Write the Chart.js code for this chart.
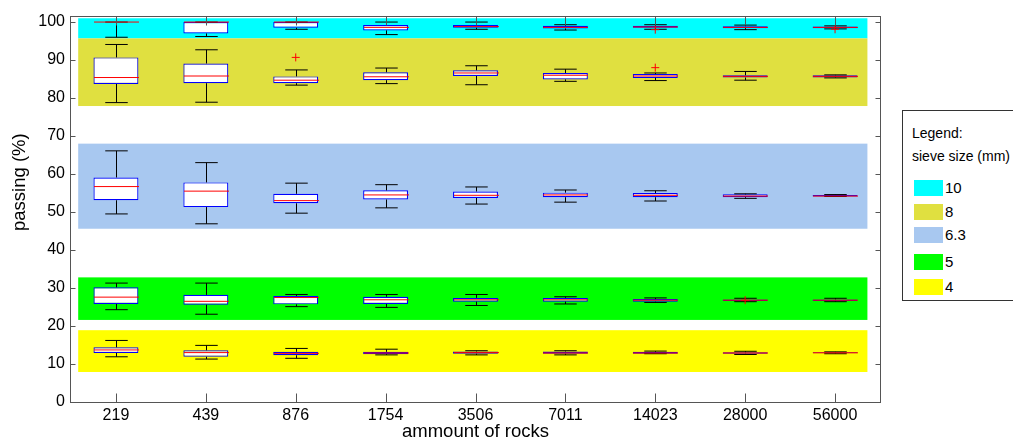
<!DOCTYPE html>
<html>
<head>
<meta charset="utf-8">
<title>passing vs ammount of rocks</title>
<script src="https://cdn.jsdelivr.net/npm/chart.js@4.4.1/dist/chart.umd.min.js"></script>
<style>
  body { margin: 0; background: #fff; }
  #wrap { position: relative; width: 1013px; height: 445px; overflow: hidden; font-family: "Liberation Sans", Arial, sans-serif; }
  #legendBox { position: absolute; left: 902px; top: 110px; width: 140px; height: 189px; border: 1px solid #333; background: #fff; }
  #legendBox .txt { position: absolute; left: 9px; font-size: 14px; line-height: 16px; white-space: nowrap; color: #000; }
  #legendBox .sw { position: absolute; left: 11px; width: 29px; height: 16px; }
  #legendBox .lbl { position: absolute; left: 42px; font-size: 15px; line-height: 16px; color: #000; }
</style>
</head>
<body>
<div id="wrap">
  <canvas id="boxChart" width="1013" height="445"></canvas>
  <div id="legendBox"></div>
</div>
<script>
// categories on the x axis
var categories = ['219', '439', '876', '1754', '3506', '7011', '14023', '28000', '56000'];
// sieve sizes (mm), one box series each
var sieveSizes = ['10', '8', '6.3', '5', '4'];
var bandColors = ['#00ffff', '#e0e040', '#a8c8f0', '#00ff00', '#ffff00'];

// [lower whisker, q1, median, q3, upper whisker] per category
var box10 = [[96.0, 100, 100, 100, 100], [96.2, 97.0, 100, 100, 100], [98.1, 98.5, 100, 100, 100],
             [96.7, 97.8, 98.6, 99.2, 100], [98.1, 98.5, 98.8, 99.2, 100], [97.9, 98.3, 98.6, 99.0, 99.3],
             [98.1, 98.5, 98.7, 99.0, 99.3], [98.0, 98.4, 98.6, 98.9, 99.2], [98.2, 98.4, 98.6, 98.8, 99.0]];
var box8 = [[78.8, 83.7, 85.4, 90.7, 94.1], [78.9, 83.9, 85.8, 89.1, 92.7], [83.4, 83.9, 84.7, 85.7, 87.4],
            [83.8, 84.7, 85.6, 86.8, 87.9], [83.5, 85.8, 86.6, 87.3, 88.5], [84.4, 84.9, 86.0, 86.6, 87.6],
            [84.6, 85.3, 85.8, 86.3, 86.6], [84.7, 85.4, 85.7, 86.0, 87.0], [85.3, 85.4, 85.7, 86.0, 86.1]];
var box63 = [[49.5, 53.1, 56.7, 59.1, 66.1], [46.9, 51.3, 55.5, 57.8, 63.0], [49.7, 52.3, 53.0, 54.8, 57.6],
             [51.1, 53.3, 54.5, 55.7, 57.2], [52.1, 53.7, 54.4, 55.4, 56.6], [52.6, 53.9, 54.5, 55.1, 55.8],
             [52.9, 53.9, 54.4, 55.0, 55.6], [53.6, 53.9, 54.2, 54.65, 54.8], [54.1, 54.1, 54.2, 54.5, 54.6]];
var box5 = [[24.3, 25.8, 27.6, 30.2, 31.3], [23.1, 25.6, 26.5, 28.2, 31.3], [25.1, 25.7, 27.5, 27.9, 28.3],
            [24.9, 25.8, 26.9, 27.7, 28.3], [25.4, 26.4, 26.9, 27.4, 28.3], [25.8, 26.4, 26.9, 27.4, 27.7],
            [26.2, 26.4, 26.8, 27.1, 27.4], [26.4, 26.6, 26.8, 27.0, 27.3], [26.4, 26.6, 26.8, 27.0, 27.3]];
var box4 = [[11.9, 12.9, 13.7, 14.4, 16.2], [11.3, 11.9, 13.0, 13.6, 14.9], [11.5, 12.3, 12.8, 13.2, 14.1],
            [12.4, 12.6, 12.9, 13.2, 13.9], [12.4, 12.7, 13.0, 13.3, 13.5], [12.4, 12.7, 12.9, 13.3, 13.5],
            [12.7, 12.7, 12.9, 13.2, 13.4], [12.5, 12.7, 12.9, 13.1, 13.35], [12.7, 12.8, 12.95, 13.1, 13.2]];
var boxes = [box10, box8, box63, box5, box4];

// outliers as [category index, value]
var outliers10 = [[6, 98.0], [8, 98.1]];
var outliers8 = [[2, 90.7], [6, 88.0]];
var outliers63 = [];
var outliers5 = [[7, 26.8]];
var outliers4 = [];
var outliers = [outliers10, outliers8, outliers63, outliers5, outliers4];

// shaded range behind each sieve size
var bandLow = [95.7, 77.9, 45.6, 21.6, 7.9];
var bandHigh = [101.0, 95.7, 68.0, 32.8, 18.9];

var yTicks = [0, 10, 20, 30, 40, 50, 60, 70, 80, 90, 100];
var yTitle = 'passing (%)';

var fontFamily = '"Liberation Sans", Arial, sans-serif';

// build the legend box
var legendBox = document.getElementById('legendBox');
legendBox.innerHTML = '<div class="txt" style="top:14px">Legend:</div>' +
    '<div class="txt" style="top:37px">sieve size (mm)</div>';
var swTops = [69, 93, 116, 143, 168];
for (var k = 0; k < sieveSizes.length; k++) {
    legendBox.innerHTML += '<div class="sw" style="top:' + swTops[k] + 'px;background:' + bandColors[k] + '"></div>' +
        '<div class="lbl" style="top:' + swTops[k] + 'px">' + sieveSizes[k] + '</div>';
}

// bands, whiskers, medians, outliers and the axes frame
var boxPlugin = {
    id: 'boxPlugin',
    beforeDatasetsDraw: function (chart) {
        var ctx = chart.ctx, x = chart.scales.x, y = chart.scales.y;
        var step = x.getPixelForValue(1) - x.getPixelForValue(0);
        var left = x.getPixelForValue(0) - 0.42 * step;
        var right = x.getPixelForValue(categories.length - 1) + 0.36 * step;
        ctx.save();
        for (var k = 0; k < sieveSizes.length; k++) {
            var t = y.getPixelForValue(bandHigh[k]), b = y.getPixelForValue(bandLow[k]);
            ctx.fillStyle = bandColors[k];
            ctx.fillRect(left, t, right - left, b - t);
        }
        ctx.restore();
    },
    afterDatasetsDraw: function (chart) {
        var ctx = chart.ctx, x = chart.scales.x, y = chart.scales.y, area = chart.chartArea;
        var step = x.getPixelForValue(1) - x.getPixelForValue(0);
        var halfBox = step * 0.25, halfCap = step * 0.125;
        ctx.save();
        ctx.beginPath();
        ctx.rect(area.left, area.top, area.right - area.left, area.bottom - area.top);
        ctx.clip();
        ctx.lineWidth = 1;
        for (var k = 0; k < boxes.length; k++) {
            for (var i = 0; i < boxes[k].length; i++) {
                var b = boxes[k][i];
                var cx = Math.round(x.getPixelForValue(i)) + 0.5;
                var yLo = y.getPixelForValue(b[0]), yQ1 = y.getPixelForValue(b[1]);
                var yMed = y.getPixelForValue(b[2]);
                var yQ3 = y.getPixelForValue(b[3]), yHi = y.getPixelForValue(b[4]);
                ctx.strokeStyle = '#000';
                ctx.beginPath();
                ctx.moveTo(cx, yQ3); ctx.lineTo(cx, yHi);
                ctx.moveTo(cx, yQ1); ctx.lineTo(cx, yLo);
                ctx.moveTo(cx - halfCap, yHi); ctx.lineTo(cx + halfCap, yHi);
                ctx.moveTo(cx - halfCap, yLo); ctx.lineTo(cx + halfCap, yLo);
                ctx.stroke();
                ctx.strokeStyle = '#ff0000';
                ctx.beginPath();
                ctx.moveTo(cx - halfBox, yMed); ctx.lineTo(cx + halfBox, yMed);
                ctx.stroke();
            }
            ctx.strokeStyle = '#ff0000';
            for (var j = 0; j < outliers[k].length; j++) {
                var ox = x.getPixelForValue(outliers[k][j][0]), oy = y.getPixelForValue(outliers[k][j][1]);
                ctx.beginPath();
                ctx.moveTo(ox - 4, oy); ctx.lineTo(ox + 4, oy);
                ctx.moveTo(ox, oy - 4); ctx.lineTo(ox, oy + 4);
                ctx.stroke();
            }
        }
        ctx.restore();

        // frame and inward ticks
        ctx.save();
        ctx.strokeStyle = '#555';
        ctx.lineWidth = 1;
        var l = Math.round(area.left) - 0.5, r = Math.round(area.right) + 0.5;
        var t = Math.round(area.top) + 0.5, bt = Math.round(area.bottom) + 0.5;
        ctx.strokeRect(l, t, r - l, bt - t);
        ctx.beginPath();
        for (var n = 0; n < yTicks.length; n++) {
            var ty = Math.round(y.getPixelForValue(yTicks[n])) + 0.5;
            ctx.moveTo(l, ty); ctx.lineTo(l + 5, ty);
            ctx.moveTo(r, ty); ctx.lineTo(r - 5, ty);
        }
        for (var c = 0; c < categories.length; c++) {
            var tx = Math.round(x.getPixelForValue(c)) + 0.5;
            ctx.moveTo(tx, bt); ctx.lineTo(tx, bt - 9);
            ctx.moveTo(tx, t); ctx.lineTo(tx, t + 9);
        }
        ctx.stroke();

        // y axis title, sits a little above the axis centre
        ctx.fillStyle = '#000';
        ctx.font = '18.5px ' + fontFamily;
        ctx.textAlign = 'left';
        ctx.textBaseline = 'middle';
        ctx.translate(20, 231);
        ctx.rotate(-Math.PI / 2);
        ctx.fillText(yTitle, 0, 0);
        ctx.restore();
    }
};

var datasets = [];
for (var k = 0; k < boxes.length; k++) {
    datasets.push({
        label: sieveSizes[k],
        data: boxes[k].map(function (b) { return [b[1], b[3]]; }),
        backgroundColor: '#ffffff',
        borderColor: '#0000ff',
        borderWidth: 1.2,
        borderSkipped: false,
        grouped: false,
        categoryPercentage: 1,
        barPercentage: 0.5
    });
}

var ctx = document.getElementById('boxChart').getContext('2d');
var boxChart = new Chart(ctx, {
    type: 'bar',
    data: { labels: categories, datasets: datasets },
    plugins: [boxPlugin],
    options: {
        responsive: false,
        animation: false,
        layout: { padding: { left: 0, right: 133, top: 10, bottom: 0 } },
        scales: {
            x: {
                offset: true,
                grid: { display: false, drawTicks: false },
                border: { display: false },
                ticks: { color: '#000', font: { family: fontFamily, size: 16 }, padding: 4, maxRotation: 0, autoSkip: false },
                title: { display: true, text: 'ammount of rocks', color: '#000', font: { family: fontFamily, size: 18.5 }, padding: { top: 0, bottom: 2 } },
                afterFit: function (s) { s.height = 43; }
            },
            y: {
                min: 0,
                max: 101.7,
                grid: { display: false, drawTicks: false },
                border: { display: false },
                ticks: { stepSize: 10, color: '#000', font: { family: fontFamily, size: 16 }, padding: 6 },
                afterBuildTicks: function (s) {
                    s.ticks = yTicks.map(function (v) { return { value: v }; });
                },
                title: { display: false },
                afterFit: function (s) { s.width = 71; }
            }
        },
        plugins: {
            legend: { display: false },
            tooltip: { enabled: false }
        }
    }
});
</script>
</body>
</html>
